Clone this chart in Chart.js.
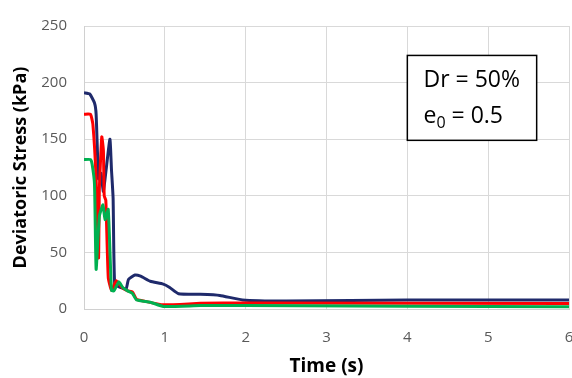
<!DOCTYPE html>
<html>
<head>
<meta charset="utf-8">
<script src="https://cdn.jsdelivr.net/npm/chart.js@4.4.1/dist/chart.umd.min.js"></script>
<style>
  html, body { margin: 0; padding: 0; background: #fff; }
  #wrap { width: 572px; height: 378px; }
</style>
</head>
<body>
<div id="wrap"><canvas id="chart"></canvas></div>
<script>
// time (s) and deviatoric stress (kPa)
const blueTime   = [0, 0.07, 0.13, 0.15, 0.18, 0.21, 0.24, 0.32, 0.34, 0.36, 0.38, 0.45, 0.52, 0.55, 0.63, 0.70, 0.82, 0.98, 1.06, 1.17, 1.44, 1.68, 1.96, 2.5, 3.3, 4, 6];
const blueStress = [191, 190, 182, 172, 115, 120, 104, 150, 123, 98, 22, 19, 17.5, 26, 30, 29, 24.5, 22, 19, 13.5, 13, 12, 8, 7, 7.5, 8, 8];

const redTime   = [0, 0.08, 0.11, 0.15, 0.18, 0.19, 0.22, 0.24, 0.25, 0.27, 0.30, 0.34, 0.40, 0.47, 0.54, 0.60, 0.65, 0.72, 0.98, 1.44, 2, 6];
const redStress = [172, 172, 163, 115, 45, 106, 152, 140, 100, 96, 28, 16.5, 25, 19, 16, 15, 8.5, 7.3, 3.7, 5, 5.3, 4.8];

const greenTime   = [0, 0.08, 0.10, 0.13, 0.15, 0.19, 0.235, 0.26, 0.30, 0.34, 0.37, 0.43, 0.48, 0.54, 0.60, 0.65, 0.82, 0.98, 1.44, 2, 6];
const greenStress = [132, 132, 128, 110, 35, 82, 92, 79, 88, 16.5, 16, 24, 19, 16, 13.7, 8, 6, 2.3, 3, 3, 2];

const xTicks = [0, 1, 2, 3, 4, 5, 6];
const yTicks = [0, 50, 100, 150, 200, 250];

const noteLines = ['Dr = 50%', 'e0 = 0.5'];

const pts = (t, v) => t.map((x, i) => ({ x: x, y: v[i] }));

const tickFont = { family: 'Open Sans', size: 15 };
const titleFont = { family: 'Open Sans', size: 18, weight: 'bold' };

// text box in the upper right
const noteBox = {
  id: 'noteBox',
  afterDatasetsDraw(chart) {
    const { ctx, scales: { x, y } } = chart;
    const l = x.getPixelForValue(4.0), r = x.getPixelForValue(5.6);
    const t = y.getPixelForValue(224), b = y.getPixelForValue(149);
    ctx.save();
    ctx.fillStyle = '#fff';
    ctx.fillRect(l, t, r - l, b - t);
    ctx.strokeStyle = '#000';
    ctx.lineWidth = 1.5;
    ctx.strokeRect(l, t, r - l, b - t);
    ctx.fillStyle = '#000';
    ctx.font = '23px "Open Sans"';
    ctx.textBaseline = 'middle';
    const tx = x.getPixelForValue(4.2);
    ctx.fillText(noteLines[0], tx, y.getPixelForValue(202));
    // e with subscript 0
    const y2 = y.getPixelForValue(170);
    ctx.fillText('e', tx, y2);
    const ew = ctx.measureText('e').width;
    ctx.font = '16px "Open Sans"';
    ctx.fillText('0', tx + ew, y2 + 7);
    const zw = ctx.measureText('0').width;
    ctx.font = '23px "Open Sans"';
    ctx.fillText(' = 0.5', tx + ew + zw, y2);
    ctx.restore();
  }
};

new Chart(document.getElementById('chart'), {
  type: 'line',
  data: {
    datasets: [
      { data: pts(blueTime, blueStress), borderColor: '#1F2A6B', order: 3 },
      { data: pts(redTime, redStress), borderColor: '#FF0000', order: 2 },
      { data: pts(greenTime, greenStress), borderColor: '#00B050', order: 1 }
    ]
  },
  options: {
    responsive: true,
    maintainAspectRatio: false,
    animation: false,
    layout: { padding: { left: 0, right: 3, top: 17, bottom: 0 } },
    elements: {
      line: { borderWidth: 3, tension: 0.15, fill: false },
      point: { radius: 0 }
    },
    plugins: {
      legend: { display: false },
      tooltip: { enabled: false }
    },
    scales: {
      x: {
        type: 'linear',
        min: 0,
        max: 6,
        afterBuildTicks: s => { s.ticks = xTicks.map(v => ({ value: v })); },
        afterFit: s => { s.paddingRight = 0; s.height = 69; },
        ticks: { color: '#595959', font: tickFont, padding: 20 },
        grid: { color: '#D9D9D9', drawTicks: false },
        border: { color: '#D0D0D0' },
        title: { display: true, text: 'Time (s)', color: '#000', font: { family: 'Open Sans', size: 19, weight: 'bold' }, padding: { top: 0, bottom: 0 } }
      },
      y: {
        min: 0,
        max: 250,
        afterBuildTicks: s => { s.ticks = yTicks.map(v => ({ value: v })); },
        afterFit: s => { s.width = 84; },
        ticks: { color: '#595959', font: tickFont, padding: 17 },
        grid: { color: '#D9D9D9', drawTicks: false },
        border: { color: '#D0D0D0' },
        title: { display: true, text: 'Deviatoric Stress (kPa)', color: '#000', font: titleFont, padding: { top: 10, bottom: 0 } }
      }
    }
  },
  plugins: [noteBox]
});
</script>
</body>
</html>
